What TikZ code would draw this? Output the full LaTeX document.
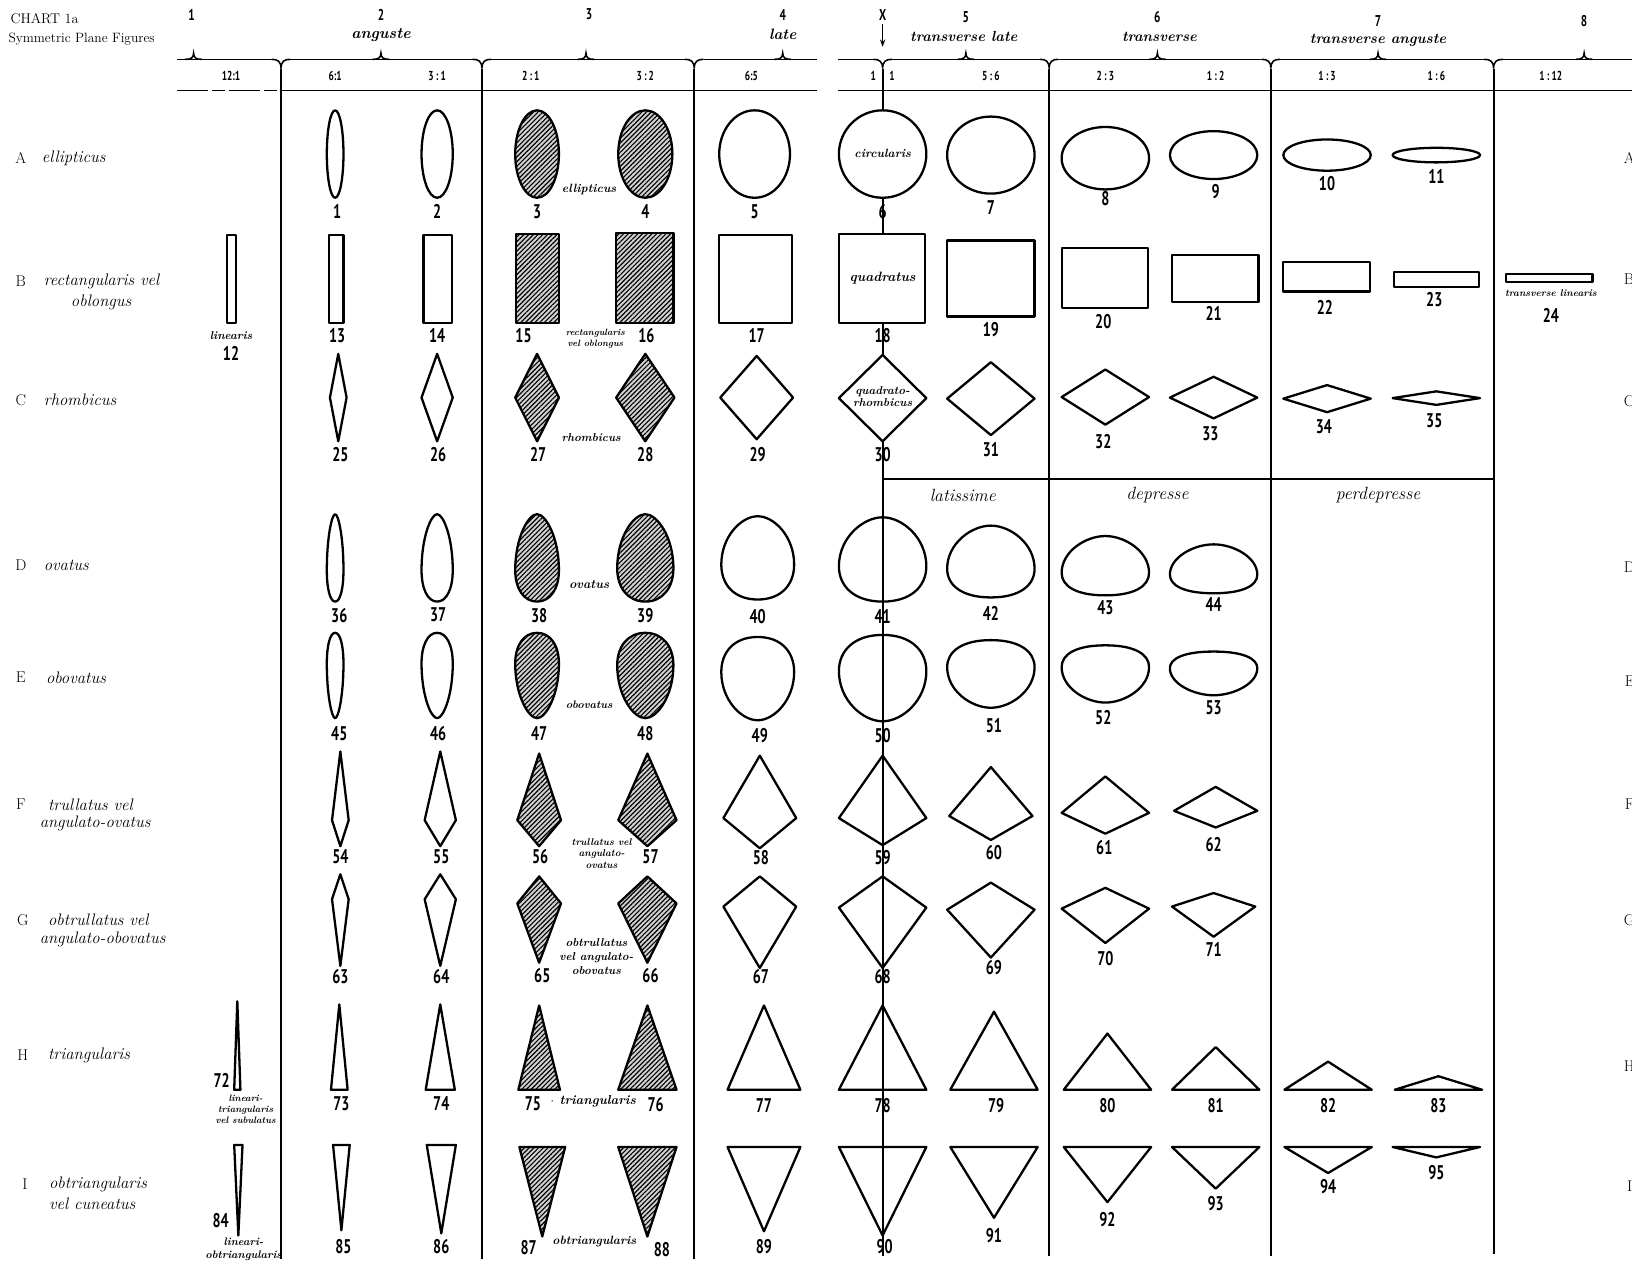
\documentclass[tikz,border=0pt]{standalone}
\usepackage{fontspec}
\newfontfamily\numfont[FakeStretch=0.72]{PT Sans}
\usetikzlibrary{patterns.meta,arrows.meta}
\tikzset{
  shp/.style={line width=2.2pt, line join=round},
  hat/.style={shp, preaction={fill=gray!35}, pattern={Lines[angle=45,distance=3.2pt,line width=1.1pt]}},
  wfill/.style={shp, fill=white},
  sep/.style={line width=1.8pt},
  hln/.style={line width=1.5pt},
  num/.style={font=\numfont\bfseries\fontsize{19}{19}\selectfont, inner sep=0pt},
  rat/.style={font=\numfont\bfseries\fontsize{12.5}{12.5}\selectfont, inner sep=0pt},
  hnum/.style={font=\numfont\bfseries\fontsize{15}{15}\selectfont, inner sep=0pt},
  hword/.style={font=\bfseries\itshape\fontsize{14}{14}\selectfont, inner sep=0pt},
  rowl/.style={font=\itshape\fontsize{16}{18}\selectfont, anchor=west, inner sep=0pt},
  letr/.style={font=\fontsize{15}{15}\selectfont, inner sep=0pt},
  sml/.style={font=\bfseries\itshape\pgfmathsetmacro\smlb{#1*1.2}\fontsize{#1}{\smlb}\selectfont, align=center, inner sep=0pt},
  sml/.default=10,
  inl/.style={font=\bfseries\itshape\pgfmathsetmacro\smlb{#1*1.1}\fontsize{#1}{\smlb}\selectfont, align=center, inner sep=0pt},
  subh/.style={font=\itshape\fontsize{17}{17}\selectfont, inner sep=0pt},
}
\newcommand\nl[3]{\node[num] (n#1) at (#2,#3) {#1};}
\newcommand\rhomb[5]{\draw[#5] (#1,#2) -- ({#1+#4},{(#2+#3)/2}) -- (#1,#3) -- ({#1-#4},{(#2+#3)/2}) -- cycle;}
\newcommand\kite[6]{\draw[#6] (#1,#2) -- ({#1+#5},#3) -- (#1,#4) -- ({#1-#5},#3) -- cycle;}
\newcommand\tri[5]{\draw[#5] (#1,#2) -- ({#1+#4},#3) -- ({#1-#4},#3) -- cycle;}
% egg: x, top, bottom, halfwidth, widest fraction, top factor, bottom factor, style
\newcommand\egg[8]{%
  \pgfmathsetmacro\eggx{#1}\pgfmathsetmacro\eggt{#2}\pgfmathsetmacro\eggb{#3}%
  \pgfmathsetmacro\eggw{#4}\pgfmathsetmacro\eggm{#2+#5*(#3-#2)}%
  \pgfmathsetmacro\eggkt{#6}\pgfmathsetmacro\eggkb{#7}%
  \draw[#8] (\eggx,\eggt) .. controls ({\eggx+\eggkt*\eggw},\eggt) and ({\eggx+\eggw},{\eggm-0.58*(\eggm-\eggt)}) .. ({\eggx+\eggw},\eggm)
   .. controls ({\eggx+\eggw},{\eggm+0.58*(\eggb-\eggm)}) and ({\eggx+\eggkb*\eggw},\eggb) .. (\eggx,\eggb)
   .. controls ({\eggx-\eggkb*\eggw},\eggb) and ({\eggx-\eggw},{\eggm+0.58*(\eggb-\eggm)}) .. ({\eggx-\eggw},\eggm)
   .. controls ({\eggx-\eggw},{\eggm-0.58*(\eggm-\eggt)}) and ({\eggx-\eggkt*\eggw},\eggt) .. cycle;}
\newcommand\curl[1]{\draw[hln] ({#1-9},57) .. controls ({#1-3},57) and (#1,59) .. (#1,66) .. controls (#1,59) and ({#1+3},57) .. ({#1+9},57);}
\newcommand\btip[1]{\draw[hln] ({#1-8},57) .. controls ({#1-3},57) and (#1,56) .. (#1,51) .. controls (#1,56) and ({#1+3},57) .. ({#1+8},57);}
\begin{document}
\begin{tikzpicture}[x=1pt,y=-1pt]
\useasboundingbox (0,0) rectangle (1568,1213);
\fill[white] (0,0) rectangle (1568,1213);

% ---------- title ----------
\node[anchor=west, font=\fontsize{13.5}{14}\selectfont, inner sep=0pt] (t1) at (10,18) {CHART 1a};
\node[anchor=west, font=\fontsize{13}{14}\selectfont, inner sep=0pt] (t2) at (8,38) {Symmetric Plane Figures};

% ---------- header numbers and words ----------
\node[hnum] (h1) at (184,14) {1};
\node[hnum] (h2) at (366,14) {2};
\node[hword, font=\bfseries\itshape\fontsize{15}{15}\selectfont] (w2) at (366,34) {anguste};
\node[hnum] (h3) at (566,14) {3};
\node[hnum] (h4) at (752,14) {4};
\node[hword, font=\bfseries\itshape\fontsize{14.5}{15}\selectfont] (w4) at (752,33) {late};
\node[hnum] (hX) at (848,14) {X};
\coordinate (xarr) at (848,45);
\draw[line width=1.2pt,-{Stealth[length=7pt,width=5pt]}] (hX.south) ++(0,4) -- (xarr);
\node[hnum] (h5) at (928,16) {5};
\node[hword] (w5) at (926,35) {transverse late};
\node[hnum] (h6) at (1112,16) {6};
\node[hword] (w6) at (1114,35) {transverse};
\node[hnum] (h7) at (1324,20) {7};
\node[hword] (w7) at (1324,39) {transverse anguste};
\node[hnum] (h8) at (1522,20) {8};

% ---------- brace line ----------
\draw[hln] (170,57) -- (261,57);
\draw[hln] (279,57) -- (454,57);
\draw[hln] (472,57) -- (658,57);
\draw[hln] (676,57) -- (785,57);
\draw[hln] (805,57) -- (839,57);
\draw[hln] (857,57) -- (999,57);
\draw[hln] (1017,57) -- (1212,57);
\draw[hln] (1230,57) -- (1426,57);
\draw[hln] (1444,57) -- (1568,57);
\foreach \b in {270,463,667,848,1008,1221,1435} {\curl{\b}}
\foreach \c in {186,366,563,752,928,1112,1324,1522} {\btip{\c}}

% ratio row
\draw[hln, dash pattern=on 30pt off 4pt on 12pt off 4pt] (170,87) -- (270,87);
\draw[hln] (270,87) -- (785,87);
\draw[hln] (805,87) -- (1568,87);
\node[rat] (r1) at (222,73) {12:1};
\node[rat] (r2) at (322,73) {6:1};
\node[rat] (r3) at (420,73) {3\,:\,1};
\node[rat] (r4) at (510,73) {2\,:\,1};
\node[rat] (r5) at (620,73) {3\,:\,2};
\node[rat] (r6) at (722,73) {6:5};
\node[rat] (r7a) at (839,73) {1};
\node[rat] (r7b) at (857,73) {1};
\node[rat] (r8) at (952,73) {5\,:\,6};
\node[rat] (r9) at (1062,73) {2\,:\,3};
\node[rat] (r10) at (1168,73) {1\,:\,2};
\node[rat] (r11) at (1275,73) {1\,:\,3};
\node[rat] (r12) at (1380,73) {1\,:\,6};
\node[rat] (r13) at (1490,73) {1\,:\,12};

% ---------- separators ----------
\draw[sep] (270,66) -- (270,1210);
\draw[sep] (463,66) -- (463,1210);
\draw[sep] (667,66) -- (667,1210);
\draw[sep] (848,66) -- (848,1207);
\draw[sep] (1008,66) -- (1008,1207);
\draw[sep] (1221,66) -- (1221,1207);
\draw[sep] (1435,66) -- (1435,1205);
\draw[sep] (848,460) -- (1435,460);
\node[subh] (s1) at (925,476) {latissime};
\node[subh] (s2) at (1112,476) {depresse};
\node[subh] (s3) at (1324,476) {perdepresse};

% ---------- row labels ----------
\node[letr] (lA) at (20,152) {A};
\node[rowl] (rA) at (40,152) {ellipticus};
\node[letr] (lB) at (20,270) {B};
\node[rowl] (rB) at (42,270) {rectangularis vel};
\node[rowl] (rB2) at (68,291) {oblongus};
\node[letr] (lC) at (20,384) {C};
\node[rowl] (rC) at (42,384) {rhombicus};
\node[letr] (lD) at (20,543) {D};
\node[rowl] (rD) at (42,543) {ovatus};
\node[letr] (lE) at (20,651) {E};
\node[rowl] (rE) at (44,651) {obovatus};
\node[letr] (lF) at (20,773) {F};
\node[rowl] (rF) at (46,773) {trullatus vel};
\node[rowl] (rF2) at (38,791) {angulato-ovatus};
\node[letr] (lG) at (22,884) {G};
\node[rowl] (rG) at (46,884) {obtrullatus vel};
\node[rowl] (rG2) at (38,903) {angulato-obovatus};
\node[letr] (lH) at (22,1014) {H};
\node[rowl] (rH) at (46,1014) {triangularis};
\node[letr] (lI) at (24,1138) {I};
\node[rowl] (rI) at (47,1138) {obtriangularis};
\node[rowl] (rI2) at (47,1157) {vel cuneatus};
% right edge letters (cut off)
\node[letr, anchor=west] (eA) at (1560,152) {A};
\node[letr, anchor=west] (eB) at (1560,268) {B};
\node[letr, anchor=west] (eC) at (1560,385) {C};
\node[letr, anchor=west] (eD) at (1560,545) {D};
\node[letr, anchor=west] (eE) at (1561,654) {E};
\node[letr, anchor=west] (eF) at (1561,773) {F};
\node[letr, anchor=west] (eG) at (1560,884) {G};
\node[letr, anchor=west] (eH) at (1560,1024) {H};
\node[letr, anchor=west] (eI) at (1563,1140) {I};

% ---------- row A: ellipses ----------
\draw[shp] (322,148) ellipse [x radius=8, y radius=42];
\draw[shp] (420,148) ellipse [x radius=15, y radius=42];
\draw[hat] (516,148) ellipse [x radius=21, y radius=42];
\draw[hat] (620,148) ellipse [x radius=26, y radius=42];
\draw[shp] (725,148) ellipse [x radius=34, y radius=42];
\draw[wfill] (848,148) circle [radius=42];
\node[inl=11.5] (tcirc) at (848,147) {circularis};
\draw[shp] (952,149) ellipse [x radius=42, y radius=37];
\draw[shp] (1062,152) ellipse [x radius=42, y radius=30];
\draw[shp] (1166,149) ellipse [x radius=42, y radius=23];
\draw[shp] (1275,149) ellipse [x radius=42, y radius=15];
\draw[shp] (1380,149) ellipse [x radius=42, y radius=7];
\node[sml=11.5] (tA) at (566,182) {ellipticus};
\nl{1}{324}{203}\nl{2}{420}{203}\nl{3}{516}{203}\nl{4}{620}{203}\nl{5}{725}{203}
\nl{6}{848}{203}\nl{7}{952}{199}\nl{8}{1062}{191}\nl{9}{1168}{184}\nl{10}{1275}{176}\nl{11}{1380}{170}

% ---------- row B: rectangles ----------
\draw[shp] (218,226) rectangle (227,310);
\node[sml=11] (tB1) at (222,322) {linearis};
\draw[shp] (316,226) rectangle (330,310);
\draw[shp] (407,226) rectangle (434,310);
\draw[hat] (496,225) rectangle (537,310);
\draw[hat] (592,224) rectangle (647,310);
\draw[shp] (691,226) rectangle (761,310);
\draw[wfill] (806,225) rectangle (889,310);
\node[inl=13] (tquad) at (848,267) {quadratus};
\draw[shp] (910,231) rectangle (994,304);
\draw[shp] (1020,238) rectangle (1103,296);
\draw[shp] (1126,245) rectangle (1209,290);
\draw[shp] (1233,252) rectangle (1316,280);
\draw[shp] (1339,261) rectangle (1421,276);
\draw[shp] (1447,263) rectangle (1530,271);
\node[sml=8.8] (tB2) at (572,325) {rectangularis\\vel oblongus};
\node[sml=9.5] (tB3) at (1490,282) {transverse linearis};
\nl{12}{222}{340}\nl{13}{324}{322}\nl{14}{420}{322}\nl{15}{503}{322}\nl{16}{621}{322}
\nl{17}{727}{322}\nl{18}{848}{322}\nl{19}{952}{317}\nl{20}{1060}{309}\nl{21}{1166}{301}
\nl{22}{1273}{295}\nl{23}{1378}{288}\nl{24}{1490}{303}

% ---------- row C: rhombi ----------
\rhomb{325}{340}{424}{8}{shp}
\rhomb{420}{340}{424}{15}{shp}
\rhomb{516}{340}{424}{21}{hat}
\rhomb{620}{340}{424}{28}{hat}
\rhomb{727}{342}{422}{35}{shp}
\rhomb{848}{341}{424}{42}{wfill}
\node[inl=11] (tqr) at (848,381) {quadrato-\\rhombicus};
\rhomb{952}{348}{418}{42}{shp}
\rhomb{1062}{355}{408}{42}{shp}
\rhomb{1166}{362}{402}{42}{shp}
\rhomb{1275}{370}{396}{42}{shp}
\rhomb{1380}{376}{389}{42}{shp}
\node[sml=11] (tC) at (568,420) {rhombicus};
\nl{25}{327}{437}\nl{26}{421}{437}\nl{27}{517}{437}\nl{28}{620}{437}\nl{29}{728}{437}
\nl{30}{848}{437}\nl{31}{952}{432}\nl{32}{1060}{424}\nl{33}{1163}{417}\nl{34}{1272}{410}\nl{35}{1378}{404}

% ---------- row D: ovate ----------
\egg{322}{494}{578}{8}{0.64}{0.4}{0.62}{shp}
\egg{420}{494}{578}{15}{0.64}{0.4}{0.62}{shp}
\egg{516}{494}{578}{21}{0.64}{0.4}{0.62}{hat}
\egg{620}{494}{578}{27}{0.62}{0.42}{0.62}{hat}
\egg{728}{496}{576}{35}{0.58}{0.45}{0.64}{shp}
\egg{848}{497}{578}{42}{0.58}{0.45}{0.64}{shp}
\egg{952}{505}{574}{42}{0.6}{0.45}{0.66}{shp}
\egg{1062}{515}{572}{42}{0.62}{0.45}{0.68}{shp}
\egg{1166}{523}{570}{42}{0.62}{0.45}{0.68}{shp}
\node[sml=12] (tD) at (566,562) {ovatus};
\nl{36}{326}{591}\nl{37}{421}{591}\nl{38}{518}{591}\nl{39}{620}{591}\nl{40}{728}{592}
\nl{41}{848}{592}\nl{42}{952}{589}\nl{43}{1062}{584}\nl{44}{1166}{581}

% ---------- row E: obovate ----------
\egg{322}{608}{690}{8}{0.36}{0.62}{0.4}{shp}
\egg{420}{608}{690}{15}{0.36}{0.62}{0.4}{shp}
\egg{516}{608}{690}{21}{0.36}{0.62}{0.4}{hat}
\egg{620}{608}{690}{27}{0.38}{0.62}{0.42}{hat}
\egg{728}{612}{692}{35}{0.42}{0.64}{0.45}{shp}
\egg{848}{610}{693}{42}{0.42}{0.64}{0.45}{shp}
\egg{952}{615}{680}{42}{0.4}{0.66}{0.45}{shp}
\egg{1062}{620}{675}{42}{0.38}{0.68}{0.45}{shp}
\egg{1166}{626}{668}{42}{0.38}{0.68}{0.45}{shp}
\node[sml=10.5] (tE) at (566,677) {obovatus};
\nl{45}{326}{705}\nl{46}{421}{705}\nl{47}{518}{705}\nl{48}{620}{705}\nl{49}{730}{707}
\nl{50}{848}{707}\nl{51}{955}{697}\nl{52}{1060}{689}\nl{53}{1166}{680}

% ---------- row F: trullate ----------
\kite{327}{722}{788}{813}{8}{shp}
\kite{423}{722}{788}{813}{15}{shp}
\kite{518}{724}{788}{813}{21}{hat}
\kite{622}{724}{788}{813}{28}{hat}
\kite{730}{726}{786}{815}{35}{shp}
\kite{848}{726}{786}{812}{42}{shp}
\kite{952}{737}{784}{807}{40}{shp}
\kite{1062}{746}{781}{801}{42}{shp}
\kite{1168}{756}{779}{795}{40}{shp}
\node[sml=9.5] (tF) at (578,820) {trullatus vel\\angulato-\\ovatus};
\nl{54}{327}{823}\nl{55}{424}{823}\nl{56}{519}{823}\nl{57}{625}{823}\nl{58}{731}{824}
\nl{59}{848}{824}\nl{60}{955}{819}\nl{61}{1061}{814}\nl{62}{1166}{811}

% ---------- row G: obtrullate ----------
\kite{327}{840}{864}{928}{8}{shp}
\kite{423}{840}{864}{928}{15}{shp}
\kite{518}{842}{868}{925}{21}{hat}
\kite{622}{842}{868}{925}{28}{hat}
\kite{730}{842}{871}{930}{35}{shp}
\kite{848}{842}{872}{930}{42}{shp}
\kite{952}{848}{874}{920}{42}{shp}
\kite{1062}{853}{873}{906}{42}{shp}
\kite{1166}{858}{871}{900}{40}{shp}
\node[sml=11] (tG) at (573,919) {obtrullatus\\vel angulato-\\obovatus};
\nl{63}{327}{938}\nl{64}{424}{938}\nl{65}{521}{937}\nl{66}{625}{937}\nl{67}{731}{938}
\nl{68}{848}{938}\nl{69}{955}{930}\nl{70}{1062}{921}\nl{71}{1166}{912}

% ---------- row H: triangles ----------
\tri{228}{962}{1047}{3}{shp}
\tri{326}{965}{1047}{8}{shp}
\tri{423}{965}{1047}{14}{shp}
\tri{518}{966}{1047}{20}{hat}
\tri{622}{966}{1047}{28}{hat}
\tri{734}{966}{1047}{35}{shp}
\tri{848}{966}{1047}{42}{shp}
\tri{955}{972}{1047}{42}{shp}
\tri{1064}{993}{1047}{42}{shp}
\tri{1168}{1006}{1047}{42}{shp}
\tri{1276}{1020}{1047}{42}{shp}
\tri{1382}{1034}{1047}{42}{shp}
\node[sml=9] (tH1) at (236,1066) {lineari-\\triangularis\\vel subulatus};
\node[sml=12.5] (tH2) at (570,1058) {$\cdot$ triangularis};
\nl{72}{213}{1038}\nl{73}{328}{1060}\nl{74}{424}{1060}\nl{75}{512}{1060}\nl{76}{630}{1061}
\nl{77}{734}{1062}\nl{78}{848}{1062}\nl{79}{957}{1062}\nl{80}{1064}{1062}\nl{81}{1168}{1062}
\nl{82}{1276}{1062}\nl{83}{1382}{1062}

% ---------- row I: obtriangular ----------
\tri{229}{1187}{1100}{4}{shp}
\tri{328}{1182}{1100}{8}{shp}
\tri{424}{1185}{1100}{14}{shp}
\tri{521}{1188}{1102}{22}{hat}
\tri{622}{1188}{1102}{28}{hat}
\tri{734}{1183}{1102}{35}{shp}
\tri{848}{1187}{1102}{42}{shp}
\tri{955}{1170}{1102}{42}{shp}
\tri{1064}{1155}{1102}{42}{shp}
\tri{1168}{1142}{1102}{42}{shp}
\tri{1276}{1127}{1102}{42}{shp}
\tri{1380}{1112}{1102}{42}{shp}
\node[sml=10.5] (tI1) at (234,1200) {lineari-\\obtriangularis};
\node[sml=11.5] (tI2) at (571,1193) {obtriangularis};
\nl{84}{212}{1173}\nl{85}{330}{1198}\nl{86}{424}{1198}\nl{87}{508}{1199}\nl{88}{636}{1201}
\nl{89}{734}{1198}\nl{90}{850}{1198}\nl{91}{955}{1187}\nl{92}{1064}{1172}\nl{93}{1168}{1156}
\nl{94}{1276}{1140}\nl{95}{1380}{1127}
\end{tikzpicture}
\end{document}
